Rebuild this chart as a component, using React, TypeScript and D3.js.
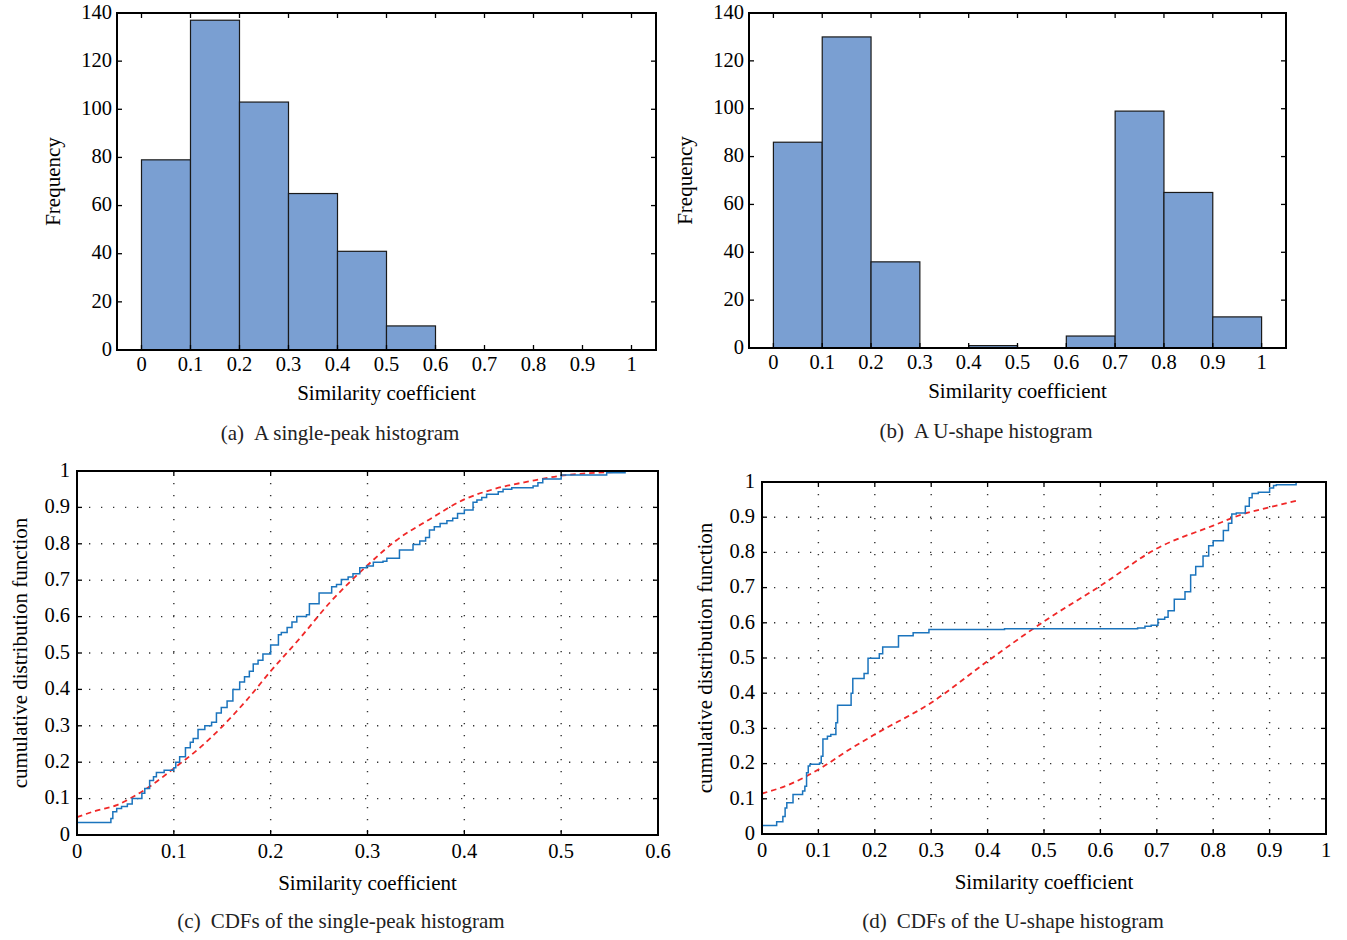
import React from "react";
import * as d3 from "d3";

// ---------- data ----------
const binStarts = [0, 0.1, 0.2, 0.3, 0.4, 0.5, 0.6, 0.7, 0.8, 0.9];
const singlePeakCounts = [79, 137, 103, 65, 41, 10, 0, 0, 0, 0];
const uShapeCounts = [86, 130, 36, 0, 1, 0, 5, 99, 65, 13];
const histXTicks = [0, 0.1, 0.2, 0.3, 0.4, 0.5, 0.6, 0.7, 0.8, 0.9, 1];
const histYTicks = [0, 20, 40, 60, 80, 100, 120, 140];

const cdfYTicks = [0, 0.1, 0.2, 0.3, 0.4, 0.5, 0.6, 0.7, 0.8, 0.9, 1];
const cdfCXTicks = [0, 0.1, 0.2, 0.3, 0.4, 0.5, 0.6];
const cdfDXTicks = [0, 0.1, 0.2, 0.3, 0.4, 0.5, 0.6, 0.7, 0.8, 0.9, 1];

// empirical CDF (steps) of the single-peak data
const empiricalC: [number, number][] = [
  [0, 0.034], [0.035, 0.045], [0.037, 0.064], [0.041, 0.073], [0.046, 0.078], [0.052, 0.085],
  [0.057, 0.1], [0.067, 0.115], [0.07, 0.128], [0.075, 0.15], [0.079, 0.16], [0.082, 0.172],
  [0.09, 0.178], [0.1, 0.185], [0.102, 0.2], [0.106, 0.215], [0.112, 0.24], [0.117, 0.255],
  [0.12, 0.265], [0.125, 0.29], [0.132, 0.3], [0.139, 0.31], [0.144, 0.335], [0.149, 0.35],
  [0.155, 0.368], [0.161, 0.4], [0.168, 0.42], [0.173, 0.435], [0.178, 0.45], [0.182, 0.47],
  [0.187, 0.48], [0.192, 0.497], [0.2, 0.522], [0.208, 0.55], [0.211, 0.556], [0.217, 0.57],
  [0.222, 0.585], [0.227, 0.6], [0.237, 0.605], [0.24, 0.635], [0.25, 0.665], [0.263, 0.682],
  [0.268, 0.688], [0.273, 0.702], [0.28, 0.709], [0.285, 0.718], [0.292, 0.734], [0.299, 0.739],
  [0.306, 0.749], [0.316, 0.752], [0.32, 0.76], [0.333, 0.783], [0.347, 0.798], [0.354, 0.808],
  [0.36, 0.817], [0.364, 0.838], [0.369, 0.847], [0.375, 0.856], [0.382, 0.863], [0.388, 0.87],
  [0.393, 0.883], [0.4, 0.893], [0.409, 0.914], [0.413, 0.92], [0.418, 0.927], [0.423, 0.936],
  [0.435, 0.943], [0.44, 0.95], [0.449, 0.954], [0.471, 0.959], [0.476, 0.968], [0.481, 0.978],
  [0.5, 0.989], [0.547, 0.995], [0.566, 0.998],
];
// fitted CDF of the single-peak data
const fittedC: [number, number][] = [
  [0, 0.049], [0.02, 0.067], [0.041, 0.082], [0.058, 0.105], [0.075, 0.133], [0.1, 0.183],
  [0.127, 0.24], [0.15, 0.298], [0.175, 0.37], [0.2, 0.45], [0.23, 0.54], [0.261, 0.638],
  [0.3, 0.741], [0.33, 0.81], [0.364, 0.867], [0.4, 0.922], [0.433, 0.952], [0.468, 0.972],
  [0.5, 0.987], [0.566, 0.998],
];
// empirical CDF (steps) of the U-shape data
const empiricalD: [number, number][] = [
  [0, 0], [0, 0.024], [0.026, 0.035], [0.037, 0.05], [0.041, 0.074], [0.044, 0.089],
  [0.055, 0.112], [0.072, 0.122], [0.076, 0.136], [0.079, 0.174], [0.082, 0.193],
  [0.085, 0.198], [0.102, 0.202], [0.105, 0.221], [0.108, 0.27], [0.116, 0.278],
  [0.122, 0.283], [0.131, 0.316], [0.134, 0.366], [0.158, 0.4], [0.161, 0.442],
  [0.181, 0.456], [0.188, 0.499], [0.208, 0.512], [0.214, 0.531], [0.242, 0.563],
  [0.268, 0.572], [0.296, 0.581], [0.43, 0.583], [0.666, 0.585], [0.679, 0.59],
  [0.69, 0.593], [0.702, 0.61], [0.714, 0.616], [0.72, 0.634], [0.731, 0.667],
  [0.75, 0.688], [0.76, 0.736], [0.769, 0.76], [0.782, 0.79], [0.792, 0.819],
  [0.8, 0.833], [0.818, 0.862], [0.827, 0.883], [0.833, 0.909], [0.841, 0.912],
  [0.857, 0.931], [0.864, 0.955], [0.869, 0.967], [0.88, 0.971], [0.9, 0.983],
  [0.907, 0.99], [0.912, 0.992], [0.947, 1.0], [0.953, 1.0],
];
// fitted CDF of the U-shape data
const fittedD: [number, number][] = [
  [0, 0.115], [0.049, 0.141], [0.1, 0.183], [0.155, 0.24], [0.2, 0.283], [0.3, 0.373],
  [0.4, 0.491], [0.5, 0.604], [0.6, 0.705], [0.7, 0.811], [0.8, 0.876], [0.853, 0.909],
  [0.9, 0.928], [0.95, 0.948],
];

const FONT = "'Liberation Serif', 'Times New Roman', serif";
const TICK_FS = 20.5;
const LABEL_FS = 21;
const CAP_FS = 21;

const fmt = (v: number) => (v === 0 ? "0" : v === 1 ? "1" : String(v));

type Frame = { x0: number; x1: number; y0: number; y1: number };

function Histogram({ f, counts, caption, captionX }: { f: Frame; counts: number[]; caption: [string, string]; captionX: number }) {
  const x = d3.scaleLinear().domain([-0.05, 1.05]).range([f.x0, f.x1]);
  const y = d3.scaleLinear().domain([0, 140]).range([f.y1, f.y0]);
  const tl = 5;
  const cx = (f.x0 + f.x1) / 2;
  return (
    <g>
      {binStarts.map((b, i) => (
        <rect key={i} x={x(b)} y={y(counts[i])} width={x(b + 0.1) - x(b)} height={y(0) - y(counts[i])}
          fill="#7a9fd2" stroke="#1a1a1a" strokeWidth={1.2} />
      ))}
      {histXTicks.map((t) => (
        <g key={"x" + t}>
          <line x1={x(t)} x2={x(t)} y1={f.y1} y2={f.y1 - tl} stroke="#000" strokeWidth={1.3} />
          <line x1={x(t)} x2={x(t)} y1={f.y0} y2={f.y0 + tl} stroke="#000" strokeWidth={1.3} />
          <text x={x(t)} y={f.y1 + 21} textAnchor="middle" fontSize={TICK_FS} fontFamily={FONT}>{fmt(t)}</text>
        </g>
      ))}
      {histYTicks.map((t) => (
        <g key={"y" + t}>
          <line x1={f.x0} x2={f.x0 + tl} y1={y(t)} y2={y(t)} stroke="#000" strokeWidth={1.3} />
          <line x1={f.x1} x2={f.x1 - tl} y1={y(t)} y2={y(t)} stroke="#000" strokeWidth={1.3} />
          <text x={f.x0 - 5} y={y(t) + 1} textAnchor="end" fontSize={TICK_FS} fontFamily={FONT} dominantBaseline="middle">{t}</text>
        </g>
      ))}
      <rect x={f.x0} y={f.y0} width={f.x1 - f.x0} height={f.y1 - f.y0} fill="none" stroke="#000" strokeWidth={2} />
      <text x={cx} y={f.y1 + 50} textAnchor="middle" fontSize={LABEL_FS} fontFamily={FONT}>Similarity coefficient</text>
      <text transform={`translate(${f.x0 - 57},${(f.y0 + f.y1) / 2}) rotate(-90)`} textAnchor="middle" fontSize={LABEL_FS} fontFamily={FONT}>Frequency</text>
      <text x={captionX} y={f.y1 + 90} textAnchor="middle" fontSize={CAP_FS} fontFamily={FONT} fill="#222">
        <tspan>{caption[0]}</tspan><tspan dx={10}>{caption[1]}</tspan>
      </text>
    </g>
  );
}

function CdfPanel({ f, xMax, xTicks, emp, fit, caption, captionX, yLabelX }:
  { f: Frame; xMax: number; xTicks: number[]; emp: [number, number][]; fit: [number, number][]; caption: [string, string]; captionX: number; yLabelX: number }) {
  const x = d3.scaleLinear().domain([0, xMax]).range([f.x0, f.x1]);
  const y = d3.scaleLinear().domain([0, 1]).range([f.y1, f.y0]);
  const stepLine = d3.line<[number, number]>().x((d) => x(d[0])).y((d) => y(d[1])).curve(d3.curveStepAfter);
  const smoothLine = d3.line<[number, number]>().x((d) => x(d[0])).y((d) => y(d[1])).curve(d3.curveMonotoneX);
  const tl = 5;
  const cx = (f.x0 + f.x1) / 2;
  return (
    <g>
      {xTicks.slice(1, -1).map((t) => (
        <line key={"gx" + t} x1={x(t)} x2={x(t)} y1={f.y0} y2={f.y1} stroke="#333" strokeWidth={1.4} strokeDasharray="1.3,10.7" />
      ))}
      {cdfYTicks.slice(1, -1).map((t) => (
        <line key={"gy" + t} x1={f.x0} x2={f.x1} y1={y(t)} y2={y(t)} stroke="#333" strokeWidth={1.4} strokeDasharray="1.3,10.7" />
      ))}
      <path d={smoothLine(fit) || ""} fill="none" stroke="#f02828" strokeWidth={1.8} strokeDasharray="5.5,4" />
      <path d={stepLine(emp) || ""} fill="none" stroke="#1b74bd" strokeWidth={1.5} />
      {xTicks.map((t) => (
        <g key={"x" + t}>
          <line x1={x(t)} x2={x(t)} y1={f.y1} y2={f.y1 - tl} stroke="#000" strokeWidth={1.3} />
          <line x1={x(t)} x2={x(t)} y1={f.y0} y2={f.y0 + tl} stroke="#000" strokeWidth={1.3} />
          <text x={x(t)} y={f.y1 + 23} textAnchor="middle" fontSize={TICK_FS} fontFamily={FONT}>{fmt(t)}</text>
        </g>
      ))}
      {cdfYTicks.map((t) => (
        <g key={"y" + t}>
          <line x1={f.x0} x2={f.x0 + tl} y1={y(t)} y2={y(t)} stroke="#000" strokeWidth={1.3} />
          <line x1={f.x1} x2={f.x1 - tl} y1={y(t)} y2={y(t)} stroke="#000" strokeWidth={1.3} />
          <text x={f.x0 - 7} y={y(t) + 1} textAnchor="end" fontSize={TICK_FS} fontFamily={FONT} dominantBaseline="middle">{fmt(t)}</text>
        </g>
      ))}
      <rect x={f.x0} y={f.y0} width={f.x1 - f.x0} height={f.y1 - f.y0} fill="none" stroke="#000" strokeWidth={2} />
      <text x={cx} y={f.y1 + 55} textAnchor="middle" fontSize={LABEL_FS} fontFamily={FONT}>Similarity coefficient</text>
      <text transform={`translate(${yLabelX},${(f.y0 + f.y1) / 2}) rotate(-90)`} textAnchor="middle" fontSize={LABEL_FS} fontFamily={FONT}>cumulative distribution function</text>
      <text x={captionX} y={928} textAnchor="middle" fontSize={CAP_FS} fontFamily={FONT} fill="#222">
        <tspan>{caption[0]}</tspan><tspan dx={10}>{caption[1]}</tspan>
      </text>
    </g>
  );
}

export default function App() {
  return (
    <svg width={1347} height={940} style={{ position: "absolute", left: 0, top: 0, background: "#fff" }}>
      <rect width={1347} height={940} fill="#fff" />
      <Histogram f={{ x0: 117, x1: 656, y0: 13, y1: 350 }} counts={singlePeakCounts} caption={["(a)", "A single-peak histogram"]} captionX={340} />
      <Histogram f={{ x0: 749, x1: 1286, y0: 13, y1: 348 }} counts={uShapeCounts} caption={["(b)", "A U-shape histogram"]} captionX={986} />
      <CdfPanel f={{ x0: 77, x1: 658, y0: 471, y1: 835 }} xMax={0.6} xTicks={cdfCXTicks} emp={empiricalC} fit={fittedC}
        caption={["(c)", "CDFs of the single-peak histogram"]} captionX={341} yLabelX={27} />
      <CdfPanel f={{ x0: 762, x1: 1326, y0: 482, y1: 834 }} xMax={1} xTicks={cdfDXTicks} emp={empiricalD} fit={fittedD}
        caption={["(d)", "CDFs of the U-shape histogram"]} captionX={1013} yLabelX={712} />
    </svg>
  );
}
